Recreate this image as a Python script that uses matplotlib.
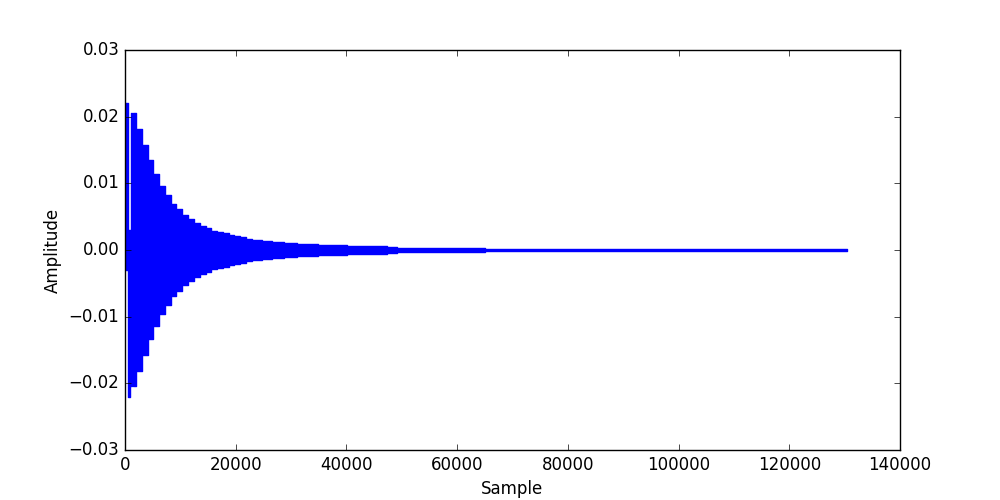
import matplotlib
matplotlib.use("Agg")
import matplotlib.pyplot as plt
import numpy as np

plt.style.use("classic")

# Envelope of the waveform (step starts in samples)
seg_start = [0, 540, 960, 1030, 1300, 1500, 1970, 3017, 4065, 5112, 6160,
             7208, 8255, 9303, 10351, 11398, 12446, 13494, 14542, 15590,
             16637, 17685, 18733, 19780, 20830, 21860, 22940, 24750, 26550,
             28720, 31070, 34865, 40100, 47330, 49140, 62860, 65030]
upper = [0.022, 0.003, 0.003, 0.0205, 0.003, 0.0205, 0.0182, 0.01575,
         0.01345, 0.0114, 0.00965, 0.00825, 0.0069, 0.0061, 0.00525,
         0.00465, 0.00405, 0.0036, 0.00325, 0.0029, 0.00265, 0.0025,
         0.0023, 0.0021, 0.0019, 0.0017, 0.0015, 0.0013, 0.0012, 0.001,
         0.0009, 0.0007, 0.00055, 0.00042, 0.00035, 0.00028, 0.00018]
lower = [-0.003, -0.022, -0.003, -0.0204, -0.003, -0.0204, -0.0181,
         -0.0157, -0.0134, -0.0114, -0.00965, -0.00825, -0.0069, -0.0061,
         -0.00525, -0.00465, -0.00405, -0.0036, -0.00325, -0.0029, -0.00265,
         -0.0025, -0.0023, -0.0021, -0.0019, -0.0017, -0.0015, -0.0013,
         -0.0012, -0.001, -0.0009, -0.0007, -0.00055, -0.00042, -0.00035,
         -0.00028, -0.00018]
end_sample = 130370

x = np.array(seg_start + [end_sample], dtype=float)
up = np.array(upper + [upper[-1]])
lo = np.array(lower + [lower[-1]])

fig = plt.figure(figsize=(10, 5), dpi=100)
ax = fig.add_subplot(111)
ax.fill_between(x, lo, up, step="post", facecolor="b", edgecolor="b", linewidth=1.0)
ax.set_xlim(0, 140000)
ax.set_ylim(-0.03, 0.03)
ax.set_xlabel("Sample")
ax.set_ylabel("Amplitude")
fig.savefig("out.png", dpi=100, facecolor="white")
